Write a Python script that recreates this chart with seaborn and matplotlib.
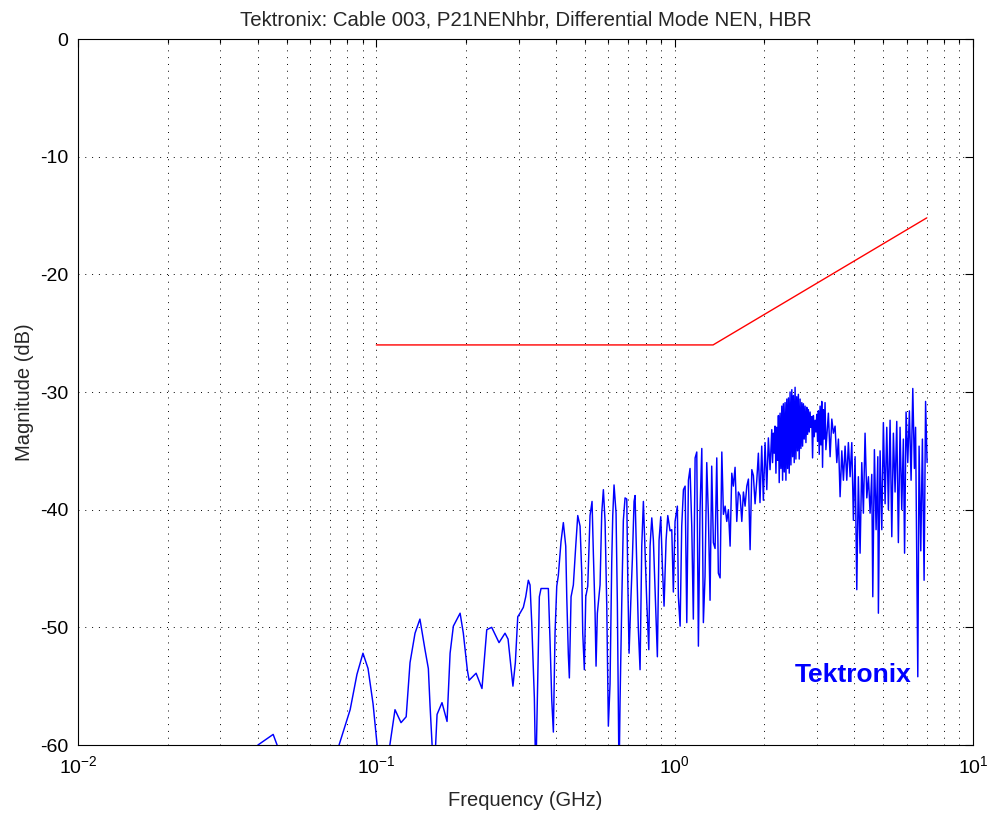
import matplotlib
matplotlib.use("Agg")
import matplotlib.pyplot as plt
import pandas as pd
import seaborn as sns
from matplotlib.ticker import FixedLocator, NullFormatter, FixedFormatter

# limit mask (red)
limit_freq = [0.1, 1.345, 7.0]
limit_mag = [-26.0, -26.0, -15.2]

low_freq = [0.030, 0.038, 0.0401, 0.0451, 0.0468, 0.050, 0.060, 0.070, 0.0750, 0.0817,
            0.0861, 0.0902, 0.0938, 0.0975, 0.1006, 0.105, 0.111, 0.1155, 0.121, 0.1259,
            0.1297, 0.1348, 0.140, 0.1456, 0.1494, 0.1514, 0.1538, 0.156, 0.1598, 0.166,
            0.1726, 0.1767, 0.1812, 0.1909, 0.1957, 0.2018, 0.2046, 0.216, 0.226, 0.2345,
            0.2436, 0.2578, 0.270, 0.2764, 0.2829, 0.287, 0.2924]
low_mag = [-70, -62, -60, -59.1, -60.2, -64, -68, -64, -60, -57,
           -54, -52.2, -53.5, -56.5, -60, -63, -60, -57, -58.1, -57.6,
           -53, -50.5, -49.3, -51.9, -53.5, -56.7, -60, -63, -57.4, -56.4,
           -58, -52.2, -49.9, -48.8, -50.5, -53.6, -54.5, -53.9, -55.2, -50.2,
           -50.0, -51.3, -50.5, -51.0, -53.5, -55.0, -53.0]

mid_freq = [0.2979, 0.3031, 0.311, 0.3168, 0.3232, 0.3275, 0.3318, 0.3386, 0.3423, 0.3465,
            0.3519, 0.3565, 0.3772, 0.3822, 0.3873, 0.3921, 0.3972, 0.4025, 0.4074, 0.4160,
            0.4235, 0.4314, 0.4348, 0.4401, 0.4436, 0.4495, 0.4575, 0.4660, 0.4733, 0.4818,
            0.4882, 0.4919, 0.4980, 0.5035, 0.5113, 0.5204, 0.5285, 0.5339, 0.5410, 0.5451,
            0.5506, 0.5622, 0.5696, 0.5768, 0.5844, 0.5921, 0.5966, 0.5994, 0.6073, 0.6153,
            0.6201, 0.6263, 0.6361, 0.6425, 0.6510, 0.6561, 0.6648, 0.6730, 0.6819, 0.6910,
            0.6964, 0.7033, 0.7126, 0.7215, 0.7310, 0.7366, 0.7463, 0.7556, 0.7656, 0.7757,
            0.7855, 0.7959, 0.8064, 0.8190, 0.8271, 0.8381, 0.8485, 0.8597, 0.8750, 0.8865,
            0.8982, 0.9095, 0.9214, 0.9358, 0.9482, 0.9651, 0.9779, 0.9899]
mid_mag = [-49.1, -48.8, -48.3, -47.4, -46.0, -46.4, -49.6, -56.0, -63.0, -56.0,
           -47.4, -46.7, -46.7, -51.2, -56.2, -58.9, -50.5, -46.5, -45.6, -42.7,
           -41.1, -43.1, -47.4, -52.3, -54.3, -47.4, -46.4, -43.1, -40.5, -41.4,
           -45.4, -50.5, -53.6, -47.4, -46.5, -40.5, -39.3, -43.7, -48.8, -53.3,
           -48.8, -46.4, -40.3, -38.3, -41.0, -48.2, -54.5, -58.4, -54.8, -44.4,
           -40.5, -37.9, -40.3, -47.9, -63.0, -56.2, -47.9, -40.9, -39.0, -39.1,
           -46.0, -52.2, -47.9, -44.2, -39.3, -38.8, -44.8, -50.2, -53.6, -43.1,
           -39.3, -43.7, -47.9, -51.9, -43.1, -40.7, -42.6, -46.8, -52.5, -42.6,
           -40.6, -44.8, -48.2, -42.6, -40.5, -41.8, -41.7, -47.0]

high_a_freq = [1.003, 1.021, 1.029, 1.043, 1.056, 1.070, 1.084, 1.098, 1.112, 1.126,
               1.141, 1.155, 1.171, 1.186, 1.201, 1.216, 1.233, 1.248, 1.264, 1.281,
               1.297, 1.314, 1.331, 1.348, 1.366, 1.384, 1.401, 1.420, 1.439, 1.457,
               1.476, 1.495, 1.514, 1.534, 1.554, 1.573, 1.594, 1.615, 1.635, 1.657,
               1.679, 1.700, 1.722, 1.745, 1.767, 1.790, 1.814, 1.836, 1.860, 1.885,
               1.908, 1.932, 1.958, 1.983, 2.009, 2.036, 2.061, 2.088]
high_a_mag = [-41.0, -39.7, -47.4, -49.9, -41.4, -38.3, -38.0, -49.6, -37.5, -36.5,
              -41.4, -49.3, -35.6, -35.1, -51.6, -40.1, -34.8, -49.6, -45.7, -36.0,
              -40.4, -47.7, -36.3, -42.8, -43.3, -35.6, -45.4, -45.8, -35.1, -40.4,
              -39.7, -41.0, -40.0, -43.1, -36.9, -38.0, -36.4, -41.0, -38.5, -38.8,
              -41.0, -38.5, -39.7, -38.0, -37.4, -43.4, -36.6, -37.1, -39.5, -37.5,
              -35.2, -39.4, -34.6, -39.2, -34.3, -38.3, -33.9, -36.6]

# the dense hump around 2.5 GHz
blob_freq = [2.116, 2.129, 2.142, 2.156, 2.170, 2.185, 2.199, 2.213, 2.227, 2.241,
             2.256, 2.271, 2.286, 2.300, 2.314, 2.330, 2.345, 2.360, 2.376, 2.391,
             2.406, 2.421, 2.437, 2.453, 2.470, 2.485, 2.500, 2.516, 2.533, 2.549,
             2.566, 2.582, 2.598, 2.615, 2.633, 2.650, 2.668, 2.684, 2.701, 2.718,
             2.736, 2.754, 2.772, 2.789, 2.807, 2.825, 2.844, 2.862, 2.881, 2.899,
             2.917, 2.936, 2.956, 2.975, 2.995, 3.013, 3.032, 3.052, 3.072, 3.092,
             3.112, 3.131, 3.151, 3.171, 3.192, 3.213]
blob_mag = [-33.2, -36.0, -33.5, -35.2, -32.9, -36.9, -33.0, -35.8, -32.0, -37.7,
            -31.8, -36.5, -31.2, -37.5, -31.0, -36.8, -30.9, -37.5, -30.6, -36.5,
            -30.5, -36.9, -30.0, -36.2, -29.8, -35.5, -30.3, -36.0, -29.6, -35.7,
            -30.4, -35.0, -30.2, -35.7, -30.6, -34.8, -30.9, -34.6, -31.0, -34.0,
            -31.2, -34.3, -31.3, -33.6, -31.5, -33.4, -31.7, -33.0, -32.1, -35.6,
            -32.0, -33.8, -32.4, -33.4, -31.9, -34.2, -31.6, -35.3, -31.2, -34.5,
            -30.8, -36.4, -31.5, -34.0, -30.9, -34.9]

high_b_freq = [3.275, 3.319, 3.363, 3.404, 3.449, 3.495, 3.539, 3.585, 3.633, 3.678,
               3.726, 3.775, 3.822, 3.873, 3.924, 3.973, 4.025, 4.078, 4.128, 4.183,
               4.238, 4.291, 4.347, 4.406, 4.461, 4.519, 4.578, 4.614, 4.672, 4.733,
               4.796, 4.818, 4.882, 4.946, 5.007, 5.074, 5.140, 5.205, 5.273, 5.343,
               5.409, 5.480, 5.552, 5.621, 5.695, 5.770, 5.842, 5.897, 5.966, 6.044,
               6.120, 6.201, 6.283, 6.362, 6.420, 6.531, 6.596, 6.683, 6.767, 6.856,
               6.935, 7.016]
high_b_mag = [-31.8, -35.5, -32.3, -33.5, -32.9, -36.0, -34.0, -38.9, -35.0, -37.5,
              -34.6, -37.5, -34.3, -37.2, -34.3, -40.9, -35.5, -46.8, -37.2, -43.7,
              -36.0, -40.3, -33.5, -39.0, -37.2, -40.3, -37.0, -47.4, -34.9, -41.7,
              -35.5, -48.8, -35.0, -41.7, -32.6, -39.5, -33.0, -40.0, -32.4, -42.3,
              -33.5, -38.5, -32.5, -42.8, -33.0, -40.0, -34.0, -43.7, -31.7, -36.0,
              -31.6, -37.5, -29.7, -36.5, -33.0, -54.2, -34.6, -43.5, -34.0, -46.0,
              -30.8, -36.0]

x_major = [0.01, 0.1, 1, 10]
x_major_labels = [r'$\mathregular{10^{-2}}$', r'$\mathregular{10^{-1}}$',
                  r'$\mathregular{10^{0}}$', r'$\mathregular{10^{1}}$']
y_ticks = [0, -10, -20, -30, -40, -50, -60]

sns.set_style("white")
plt.rcParams['font.family'] = ['Liberation Sans', 'DejaVu Sans']
plt.rcParams['mathtext.fontset'] = 'custom'
plt.rcParams['mathtext.rm'] = 'Liberation Sans'

resp = pd.DataFrame({'f': low_freq + mid_freq + high_a_freq + blob_freq + high_b_freq,
                     'mag': low_mag + mid_mag + high_a_mag + blob_mag + high_b_mag})
limit = pd.DataFrame({'f': limit_freq, 'mag': limit_mag})

fig = plt.figure(figsize=(9.93, 8.13), dpi=100)
ax = fig.add_axes([78 / 993, 68 / 813, 895 / 993, 706 / 813])

sns.lineplot(data=resp, x='f', y='mag', ax=ax, color='#0000ff', lw=1.05,
             sort=False, estimator=None, zorder=3)
sns.lineplot(data=limit, x='f', y='mag', ax=ax, color='#ff0000', lw=1.0,
             sort=False, estimator=None, zorder=4)

ax.set_xscale('log')
ax.set_xlim(0.01, 10)
ax.set_ylim(-60, 0)

minor = [m * d for d in (0.01, 0.1, 1) for m in range(2, 10)]
ax.xaxis.set_major_locator(FixedLocator(x_major))
ax.xaxis.set_major_formatter(FixedFormatter(x_major_labels))
ax.xaxis.set_minor_locator(FixedLocator(minor))
ax.xaxis.set_minor_formatter(NullFormatter())
ax.set_yticks(y_ticks)
ax.set_yticklabels([str(v) for v in y_ticks])

dots = (0, (1, 6))
ax.grid(True, which='major', axis='both', color='black', lw=0.7, linestyle=dots, zorder=1)
ax.grid(True, which='minor', axis='x', color='black', lw=0.7, linestyle=dots, zorder=1)
ax.set_axisbelow(True)

ax.tick_params(which='both', direction='in', top=True, right=True, colors='black',
               labelsize=14, width=0.8)
ax.tick_params(which='major', length=6, pad=7)
ax.tick_params(which='minor', length=3)
for s in ax.spines.values():
    s.set_color('black')
    s.set_linewidth(0.8)

ax.set_title('Tektronix: Cable 003, P21NENhbr, Differential Mode NEN, HBR',
             fontsize=14.7, pad=10)
ax.set_xlabel('Frequency (GHz)', fontsize=14.5, labelpad=10)
ax.set_ylabel('Magnitude (dB)', fontsize=14.5, labelpad=4)

ax.text(0.866, 0.099, 'Tektronix', transform=ax.transAxes, ha='center', va='center',
        color='#0000ff', fontsize=19, fontweight='bold')

fig.savefig('out.png', dpi=100, facecolor='white')
